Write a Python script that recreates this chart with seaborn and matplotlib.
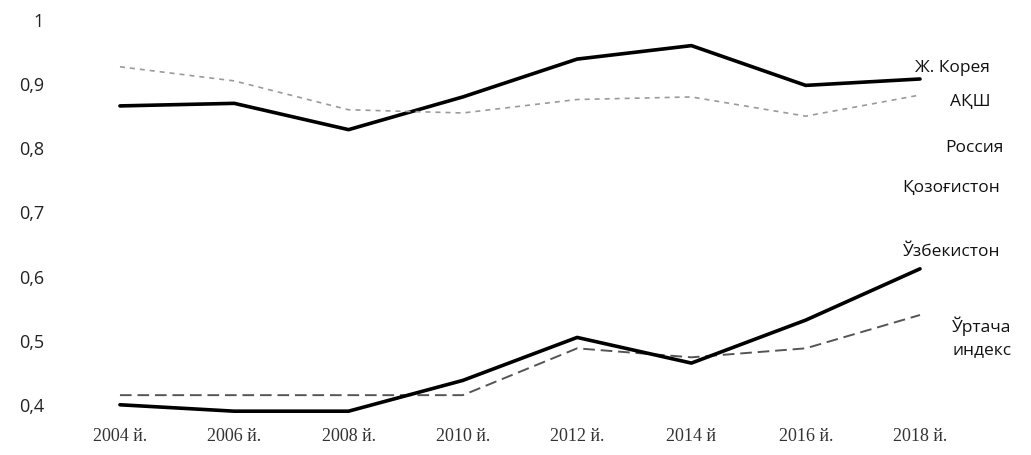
import pandas as pd
import seaborn as sns
import matplotlib.pyplot as plt

years = ["2004 й.", "2006 й.", "2008 й.", "2010 й.", "2012 й.", "2014 й", "2016 й.", "2018 й."]
korea = [0.866, 0.870, 0.829, 0.880, 0.939, 0.960, 0.898, 0.908]
usa = [0.927, 0.905, 0.860, 0.855, 0.876, 0.880, 0.850, 0.883]
uzbekistan = [0.400, 0.390, 0.390, 0.438, 0.505, 0.465, 0.532, 0.612]
average = [0.415, 0.415, 0.415, 0.415, 0.488, 0.474, 0.488, 0.540]
legend_names = ["Ж. Корея", "АҚШ", "Россия", "Қозоғистон", "Ўзбекистон", "Ўртача\nиндекс"]
yticks = [0.4, 0.5, 0.6, 0.7, 0.8, 0.9, 1.0]
ytick_labels = ["0,4", "0,5", "0,6", "0,7", "0,8", "0,9", "1"]

sns.set_style("white")
plt.rcParams['font.family'] = ['Open Sans', 'DejaVu Sans']

fig = plt.figure(figsize=(10.31, 4.55), dpi=100)
ax = fig.add_axes([0.0831, 0.0681, 0.8425, 0.888])

pos = list(range(len(years)))
series = [
    (korea, dict(color="black", lw=2.6, ls="-")),
    (usa, dict(color="#9a9a9a", lw=1.2, ls=(0, (3, 3)))),
    (average, dict(color="#555555", lw=1.4, ls=(0, (6, 3)))),
    (uzbekistan, dict(color="black", lw=2.6, ls="-")),
]
for vals, st in series:
    df = pd.DataFrame({"x": pos, "y": vals})
    sns.lineplot(data=df, x="x", y="y", ax=ax, color=st["color"],
                 linewidth=st["lw"], linestyle=st["ls"])

ax.set_xlim(-0.3, 7.3)
ax.set_ylim(0.37, 1.0)
ax.set_xticks(pos)
ax.set_xticklabels(years, family=['Liberation Serif', 'DejaVu Serif'], fontsize=13, color="#333333")
ax.set_yticks(yticks)
ax.set_yticklabels(ytick_labels, fontsize=13, color="#222222")
ax.tick_params(axis='y', length=0, pad=30)
ax.tick_params(axis='x', length=0, pad=3)
ax.set_xlabel("")
ax.set_ylabel("")
for s in ax.spines.values():
    s.set_visible(False)
ax.grid(False)

# legend-like labels on the right (line samples faded in the source)
label_pos = [(915, 68), (950, 102), (945, 148), (902, 188), (903, 252), (952, 337)]
for name, (px, py) in zip(legend_names, label_pos):
    fig.text(px / 1031, 1 - py / 455, name, ha="left", va="center",
             fontsize=12.5, color="#111111", linespacing=1.5)

fig.savefig("out.png", dpi=100)
